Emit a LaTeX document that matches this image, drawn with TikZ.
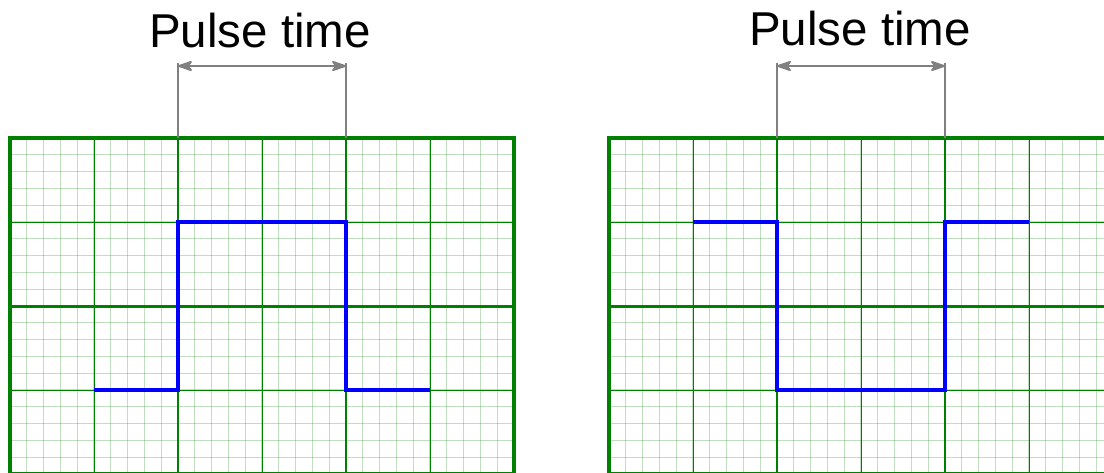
\documentclass[tikz,border=0pt]{standalone}
\usepackage{fontspec}
\newfontfamily\labelfont{Liberation Sans}
\usepackage{xcolor}
\usetikzlibrary{positioning,arrows.meta}
\definecolor{scopegreen}{RGB}{0,128,0}
\definecolor{traceblue}{RGB}{0,0,255}
\definecolor{dimgray}{RGB}{128,128,128}

\begin{document}
\begin{tikzpicture}[
  x=1pt, y=-1pt,
  minorline/.style={draw=scopegreen, line width=1.3pt, opacity=0.25},
  majorline/.style={draw=scopegreen, line width=1pt},
  pulseline/.style={draw=scopegreen, line width=2.6pt},
  centreline/.style={draw=scopegreen, line width=3pt},
  screen/.style={draw=scopegreen, line width=4pt},
  trace/.style={draw=traceblue, line width=4pt, line join=miter},
  dimline/.style={draw=dimgray, line width=2pt, {Stealth[length=18pt,width=12pt,inset=5pt,round]}-{Stealth[length=18pt,width=12pt,inset=5pt,round]}},
  extline/.style={draw=dimgray, line width=1.3pt},
  pulselabel/.style={font=\labelfont\fontsize{47.5}{50}\selectfont, inner sep=0pt, anchor=base},
]
\useasboundingbox (0,0) rectangle (1104,472);
\clip (0,0) rectangle (1104,472);

% Graticules
\foreach \ox in {10,609}{
  \foreach \i in {1,...,29}
    \draw[minorline] (\ox+\i*16.8,138) -- (\ox+\i*16.8,474);
  \foreach \j in {1,...,19}
    \draw[minorline] (\ox,138+\j*16.8) -- (\ox+504,138+\j*16.8);
  \foreach \i in {1,...,5}
    \draw[majorline] (\ox+\i*84,138) -- (\ox+\i*84,474);
  \foreach \j in {1,3}
    \draw[majorline] (\ox,138+\j*84) -- (\ox+504,138+\j*84);
  \draw[centreline] (\ox,306) -- (\ox+504,306);
  \draw[pulseline] (\ox+168,138) -- (\ox+168,474);
  \draw[pulseline] (\ox+336,138) -- (\ox+336,474);
  \draw[screen] (\ox,138) rectangle (\ox+504,474);
}

% Traces
\draw[trace] (94,390) -- (178,390) -- (178,222) -- (346,222) -- (346,390) -- (430,390);
\draw[trace] (693,222) -- (777,222) -- (777,390) -- (945,390) -- (945,222) -- (1029,222);

% Pulse width markers
\coordinate (riseL) at (178,63);
\coordinate (fallL) at (346,63);
\coordinate (riseLb) at (178,138);
\coordinate (fallLb) at (346,138);
\coordinate (arrL1) at (178,66);
\coordinate (arrL2) at (346,66);
\draw[extline] (riseL) -- (riseLb);
\draw[extline] (fallL) -- (fallLb);
\draw[dimline] (arrL1) -- (arrL2);
\node[pulselabel] (labelL) at (260,47) {Pulse time};

\coordinate (fallR) at (777,63);
\coordinate (riseR) at (945,63);
\coordinate (fallRb) at (777,138);
\coordinate (riseRb) at (945,138);
\coordinate (arrR1) at (777,66);
\coordinate (arrR2) at (945,66);
\draw[extline] (fallR) -- (fallRb);
\draw[extline] (riseR) -- (riseRb);
\draw[dimline] (arrR1) -- (arrR2);
\node[pulselabel] (labelR) at (860,45) {Pulse time};
\end{tikzpicture}
\end{document}
